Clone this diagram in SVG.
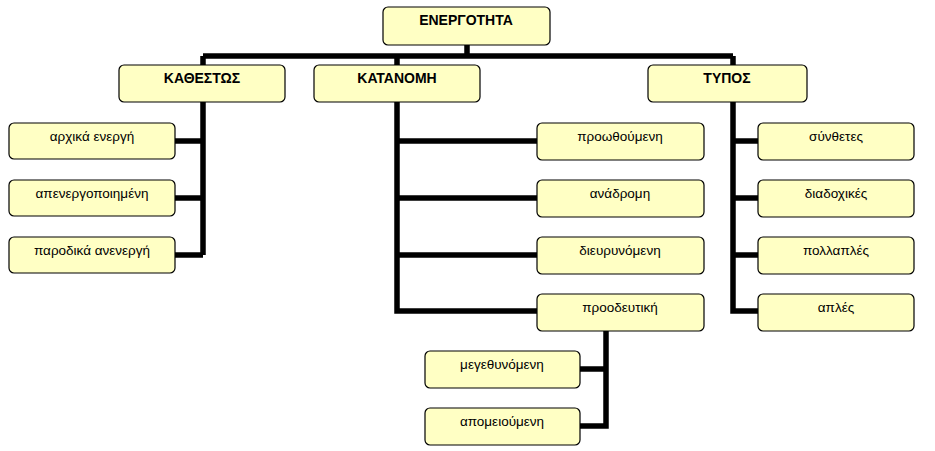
<svg xmlns="http://www.w3.org/2000/svg" width="935" height="451" viewBox="0 0 935 451">
<style>
.n rect{fill:#ffffc4;stroke:#000;stroke-width:1.2}
.n text{font-family:"Liberation Sans",Arial,sans-serif;font-size:13.5px;text-anchor:middle;fill:#000}
.h text{font-weight:bold;font-size:14px}
#c path{fill:none;stroke:#000;stroke-width:5.5}
</style>
<rect width="935" height="451" fill="#fff"/>
<g id="c">
<path d="M467 45V56M203 56H733M203 56V102M397 56V102M733 56V102"/>
<path d="M203 102V255M175 141H203M175 198H203M175 255H203"/>
<path d="M397 102V311H537M397 141H537M397 198H537M397 255H537"/>
<path d="M733 102V311H758M733 141H758M733 198H758M733 255H758"/>
<path d="M606 331V426H580M580 369H606"/>
</g>
<g id="root" class="n h"><rect x="383" y="7" width="167" height="38" rx="5"/><text x="466" y="25">ΕΝΕΡΓΟΤΗΤΑ</text></g>
<g id="kathestos" class="n h"><rect x="119" y="65" width="166" height="37" rx="5"/><text x="202" y="83">ΚΑΘΕΣΤΩΣ</text></g>
<g id="katanomi" class="n h"><rect x="314" y="65" width="166" height="37" rx="5"/><text x="397" y="83">ΚΑΤΑΝΟΜΗ</text></g>
<g id="typos" class="n h"><rect x="648" y="65" width="159" height="37" rx="5"/><text x="727" y="83">ΤΥΠΟΣ</text></g>
<g id="k1" class="n"><rect x="9" y="123" width="166" height="36" rx="5"/><text x="92" y="141">αρχικά ενεργή</text></g>
<g id="k2" class="n"><rect x="9" y="180" width="166" height="36" rx="5"/><text x="92" y="198">απενεργοποιημένη</text></g>
<g id="k3" class="n"><rect x="9" y="237" width="166" height="36" rx="5"/><text x="92" y="255">παροδικά ανενεργή</text></g>
<g id="m1" class="n"><rect x="537" y="123" width="167" height="37" rx="5"/><text x="620" y="141">προωθούμενη</text></g>
<g id="m2" class="n"><rect x="537" y="180" width="167" height="37" rx="5"/><text x="620" y="198">ανάδρομη</text></g>
<g id="m3" class="n"><rect x="537" y="237" width="167" height="37" rx="5"/><text x="620" y="255">διευρυνόμενη</text></g>
<g id="m4" class="n"><rect x="537" y="294" width="167" height="37" rx="5"/><text x="620" y="312">προοδευτική</text></g>
<g id="p1" class="n"><rect x="425" y="351" width="155" height="37" rx="5"/><text x="502" y="369">μεγεθυνόμενη</text></g>
<g id="p2" class="n"><rect x="425" y="408" width="155" height="37" rx="5"/><text x="502" y="426">απομειούμενη</text></g>
<g id="t1" class="n"><rect x="758" y="123" width="156" height="37" rx="5"/><text x="836" y="141">σύνθετες</text></g>
<g id="t2" class="n"><rect x="758" y="180" width="156" height="37" rx="5"/><text x="836" y="198">διαδοχικές</text></g>
<g id="t3" class="n"><rect x="758" y="237" width="156" height="37" rx="5"/><text x="836" y="255">πολλαπλές</text></g>
<g id="t4" class="n"><rect x="758" y="294" width="156" height="37" rx="5"/><text x="836" y="312">απλές</text></g>
</svg>
